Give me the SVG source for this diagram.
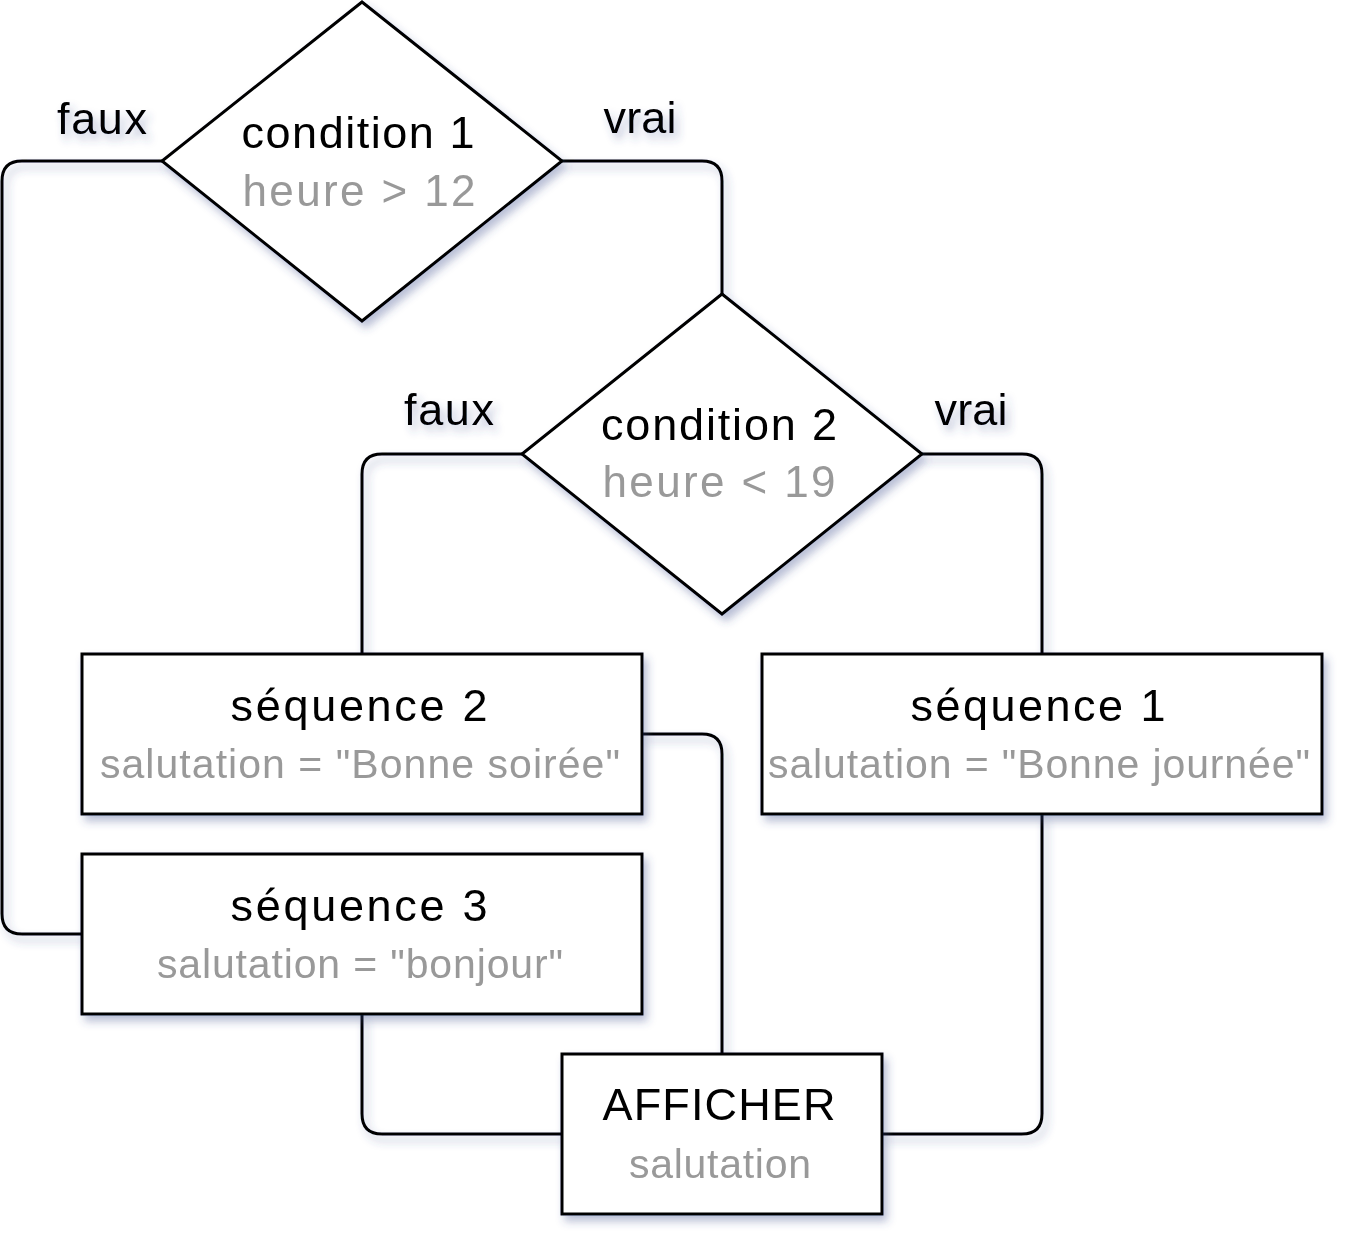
<svg xmlns="http://www.w3.org/2000/svg" width="1368" height="1260" viewBox="0 0 1368 1260">
<defs>
<filter id="sh" x="-10%" y="-10%" width="130%" height="130%">
<feGaussianBlur in="SourceAlpha" stdDeviation="4"/>
<feOffset dx="4" dy="6" result="b"/>
<feFlood flood-color="#3a4a8a" flood-opacity="0.35"/>
<feComposite in2="b" operator="in" result="s"/>
<feMerge><feMergeNode in="s"/><feMergeNode in="SourceGraphic"/></feMerge>
</filter>
<style>
.n{fill:#fff;stroke:#000;stroke-width:3}
.e{fill:none;stroke:#000;stroke-width:3}
text{font-family:"Liberation Sans",Arial,sans-serif;text-anchor:middle}
.t{font-size:45px;fill:#000}
.g{font-size:41px;fill:#999}
.g2{font-size:44px;fill:#999}
.l{font-size:45px;fill:#000}
</style>
</defs>
<rect width="1368" height="1260" fill="#fff"/>
<g id="connectors" filter="url(#sh)">
<path class="e" d="M162 161 H22 Q2 161 2 181 V914 Q2 934 22 934 H82"/>
<path class="e" d="M562 161 H702 Q722 161 722 181 V294"/>
<path class="e" d="M522 454 H382 Q362 454 362 474 V654"/>
<path class="e" d="M922 454 H1022 Q1042 454 1042 474 V654"/>
<path class="e" d="M642 734 H702 Q722 734 722 754 V1054"/>
<path class="e" d="M362 1014 V1114 Q362 1134 382 1134 H562"/>
<path class="e" d="M1042 814 V1114 Q1042 1134 1022 1134 H882"/>
</g>
<g id="labels" filter="url(#sh)">
<text class="l" x="102" y="134" textLength="90" lengthAdjust="spacing">faux</text>
<text class="l" x="640" y="133" textLength="73" lengthAdjust="spacing">vrai</text>
<text class="l" x="449" y="425" textLength="90" lengthAdjust="spacing">faux</text>
<text class="l" x="971" y="425" textLength="73" lengthAdjust="spacing">vrai</text>
</g>
<g id="cond1" filter="url(#sh)">
<polygon class="n" points="362,2 562,161 362,321 162,161"/>
<text class="t" x="358" y="148" textLength="233" lengthAdjust="spacing">condition 1</text>
<text class="g2" x="359" y="206" textLength="233" lengthAdjust="spacing">heure &gt; 12</text>
</g>
<g id="cond2" filter="url(#sh)">
<polygon class="n" points="722,294 922,454 722,614 522,454"/>
<text class="t" x="719" y="440" textLength="236" lengthAdjust="spacing">condition 2</text>
<text class="g2" x="719" y="497" textLength="233" lengthAdjust="spacing">heure &lt; 19</text>
</g>
<g id="seq2" filter="url(#sh)">
<rect class="n" x="82" y="654" width="560" height="160"/>
<text class="t" x="359" y="721" textLength="257" lengthAdjust="spacing">séquence 2</text>
<text class="g" x="360" y="778" textLength="520" lengthAdjust="spacing">salutation = "Bonne soirée"</text>
</g>
<g id="seq1" filter="url(#sh)">
<rect class="n" x="762" y="654" width="560" height="160"/>
<text class="t" x="1038" y="721" textLength="255" lengthAdjust="spacing">séquence 1</text>
<text class="g" x="1039" y="778" textLength="542" lengthAdjust="spacing">salutation = "Bonne journée"</text>
</g>
<g id="seq3" filter="url(#sh)">
<rect class="n" x="82" y="854" width="560" height="160"/>
<text class="t" x="359" y="921" textLength="257" lengthAdjust="spacing">séquence 3</text>
<text class="g" x="360" y="978" textLength="406" lengthAdjust="spacing">salutation = "bonjour"</text>
</g>
<g id="afficher" filter="url(#sh)">
<rect class="n" x="562" y="1054" width="320" height="160"/>
<text class="t" x="719" y="1120" textLength="233" lengthAdjust="spacing">AFFICHER</text>
<text class="g" x="720" y="1178" textLength="182" lengthAdjust="spacing">salutation</text>
</g>
</svg>
